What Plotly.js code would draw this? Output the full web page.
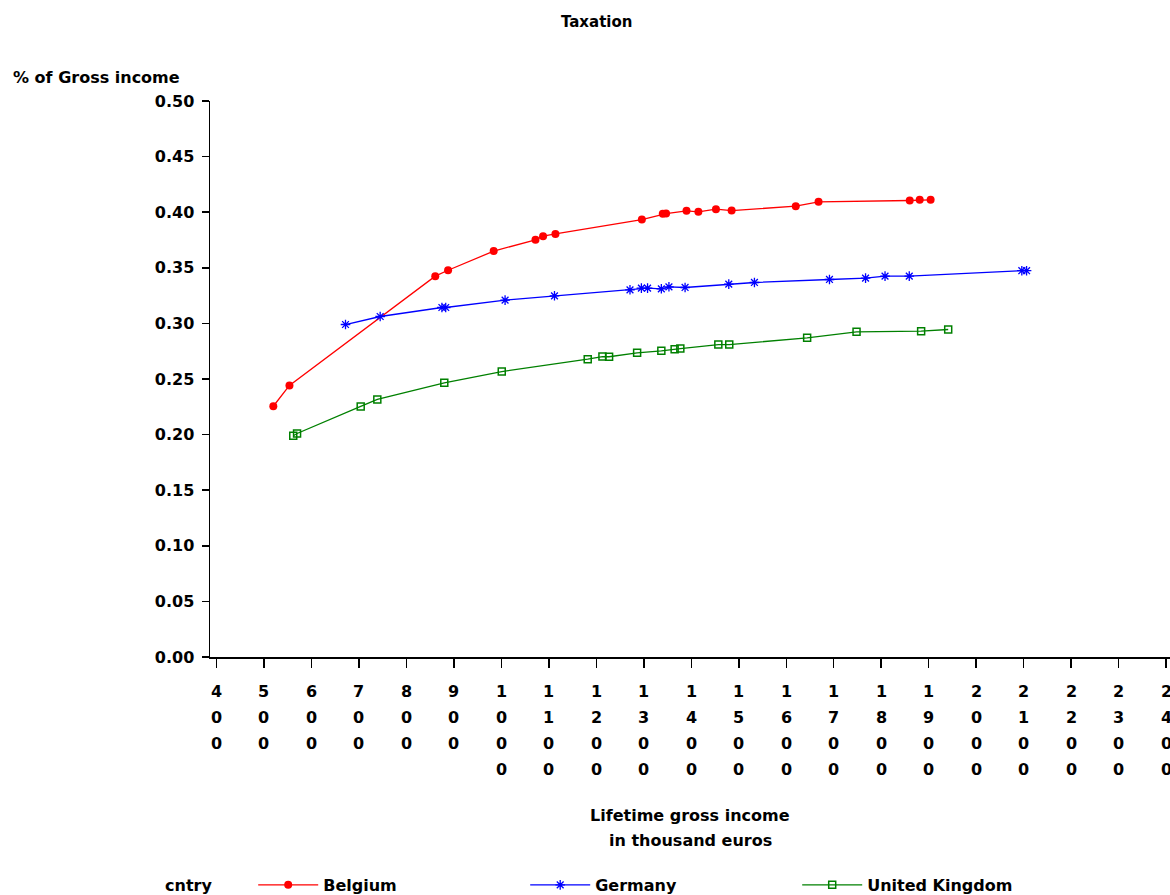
<!DOCTYPE html>
<html>
<head>
<meta charset="utf-8">
<script src="https://cdn.plot.ly/plotly-3.0.1.min.js"></script>
<style>html,body{margin:0;padding:0;background:#fff;}#chart{width:1170px;height:895px;}</style>
</head>
<body>
<div id="chart"></div>
<script>
// Belgium
const belgiumX = [520, 554, 861, 888, 984, 1072, 1088, 1114, 1296, 1340, 1347, 1390, 1415, 1452, 1485, 1620, 1668, 1860, 1881, 1904];
const belgiumY = [0.2255, 0.2442, 0.3425, 0.3478, 0.365, 0.3752, 0.3784, 0.3805, 0.3934, 0.3985, 0.3988, 0.4012, 0.4003, 0.4027, 0.4015, 0.4054, 0.4093, 0.4105, 0.4111, 0.4111];
// Germany
const germanyX = [672, 745, 875, 883, 1008, 1112, 1271, 1295, 1308, 1337, 1353, 1387, 1479, 1533, 1691, 1767, 1808, 1859, 2096, 2106];
const germanyY = [0.299, 0.3062, 0.3143, 0.3143, 0.3209, 0.3248, 0.3302, 0.3317, 0.3317, 0.3311, 0.3329, 0.3323, 0.3353, 0.3368, 0.3395, 0.3407, 0.3425, 0.3425, 0.3474, 0.3474];
// United Kingdom
const ukX = [562, 570, 704, 739, 880, 1001, 1182, 1213, 1227, 1286, 1337, 1365, 1377, 1457, 1480, 1644, 1748, 1884, 1941];
const ukY = [0.1989, 0.201, 0.2253, 0.2316, 0.2466, 0.2567, 0.2678, 0.2702, 0.27, 0.2735, 0.2753, 0.2768, 0.2774, 0.281, 0.281, 0.287, 0.2924, 0.293, 0.2945];

const xTickVals = [400, 500, 600, 700, 800, 900, 1000, 1100, 1200, 1300, 1400, 1500, 1600, 1700, 1800, 1900, 2000, 2100, 2200, 2300, 2400];
const yTickVals = [0, 0.05, 0.10, 0.15, 0.20, 0.25, 0.30, 0.35, 0.40, 0.45, 0.50];
const yTickText = ['0.00', '0.05', '0.10', '0.15', '0.20', '0.25', '0.30', '0.35', '0.40', '0.45', '0.50'];

const FONT = 'DejaVu Sans, Arial, sans-serif';
const baseFont = {family: FONT, size: 16, color: '#000', weight: 'bold'};

const traces = [
  {x: belgiumX, y: belgiumY, name: 'Belgium', type: 'scatter', mode: 'lines+markers',
   line: {color: '#ff0000', width: 1.3}, marker: {symbol: 'circle', size: 8, color: '#ff0000'}},
  {x: germanyX, y: germanyY, name: 'Germany', type: 'scatter', mode: 'lines+markers',
   line: {color: '#0000ff', width: 1.3}, marker: {symbol: 'asterisk-open', size: 8, color: '#0000ff', line: {color: '#0000ff', width: 1.3}}},
  {x: ukX, y: ukY, name: 'United Kingdom', type: 'scatter', mode: 'lines+markers',
   line: {color: '#008000', width: 1.3}, marker: {symbol: 'square-open', size: 7, color: '#008000', line: {color: '#008000', width: 1.5}}}
];

const annotations = [];
xTickVals.forEach(v => {
  String(v).split('').forEach((d, i) => {
    annotations.push({x: v, xref: 'x', y: 0, yref: 'paper', yanchor: 'middle', xanchor: 'center',
      yshift: -(34 + 26 * i), text: d, showarrow: false, font: baseFont});
  });
});
annotations.push({x: 0, xref: 'paper', y: 1, yref: 'paper', xanchor: 'left', yanchor: 'middle',
  xshift: -199, yshift: 24, text: '% of Gross income', showarrow: false, font: baseFont});
annotations.push({x: 0.5, xref: 'paper', y: 0, yref: 'paper', xanchor: 'center', yanchor: 'middle',
  yshift: -158, text: 'Lifetime gross income', showarrow: false, font: baseFont});
annotations.push({x: 0.5, xref: 'paper', y: 0, yref: 'paper', xanchor: 'center', yanchor: 'middle',
  yshift: -183, text: 'in thousand euros', showarrow: false, font: baseFont});
annotations.push({x: 0, xref: 'paper', y: 0, yref: 'paper', xanchor: 'left', yanchor: 'middle',
  xshift: -47, yshift: -228, text: 'cntry', showarrow: false, font: baseFont});

const layout = {
  width: 1170, height: 895,
  paper_bgcolor: '#fff', plot_bgcolor: '#fff',
  margin: {l: 210, r: 0, t: 101, b: 238, pad: 0, autoexpand: false},
  font: baseFont,
  title: {text: 'Taxation', font: {family: FONT, size: 15, color: '#000', weight: 'bold'},
          x: 0.51, xref: 'container', y: 0.976, yref: 'container', xanchor: 'center', yanchor: 'middle'},
  xaxis: {range: [386.7, 2408], tickvals: xTickVals, showticklabels: false,
          ticks: 'outside', ticklen: 9, tickwidth: 1.5, tickcolor: '#000',
          showline: true, linecolor: '#000', linewidth: 1.5, showgrid: false, zeroline: false, automargin: false},
  yaxis: {range: [0, 0.5], tickvals: yTickVals, ticktext: yTickText,
          ticks: 'outside', ticklen: 7, tickwidth: 1.5, tickcolor: '#000', ticklabelstandoff: 4,
          tickfont: baseFont, automargin: false,
          showline: true, linecolor: '#000', linewidth: 1.5, showgrid: false, zeroline: false},
  showlegend: true,
  legend: {orientation: 'h', x: 0.045, xanchor: 'left', y: -0.41, yanchor: 'middle',
           font: baseFont,
           entrywidth: 197, entrywidthmode: 'pixels', itemwidth: 60, bgcolor: 'rgba(0,0,0,0)'},
  annotations: annotations
};

Plotly.newPlot('chart', traces, layout, {displayModeBar: false, staticPlot: true});
</script>
</body>
</html>
